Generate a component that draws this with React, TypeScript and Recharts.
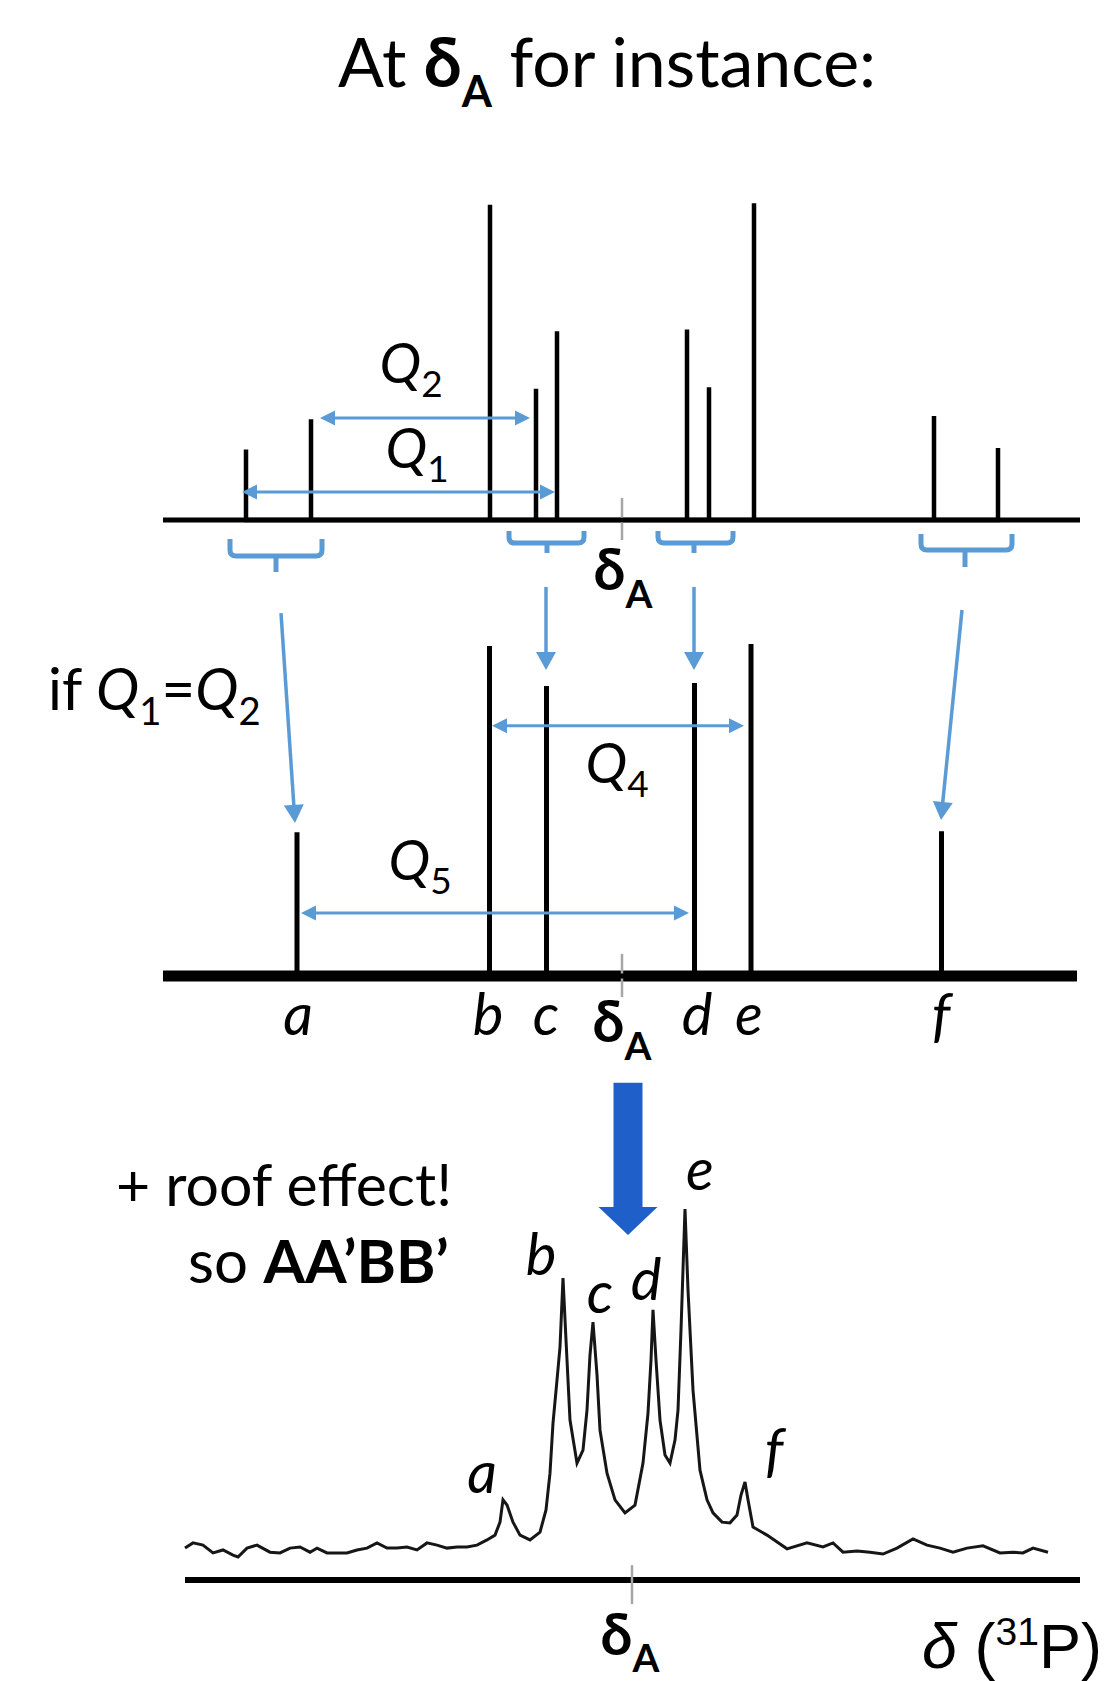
import React from 'react';
import { ComposedChart, Line, XAxis, YAxis, ReferenceLine, ReferenceDot } from 'recharts';

const FONT = 'Lato, "Open Sans", sans-serif';
const ARIAL = '"Liberation Sans", Arial, sans-serif';
const BLUE = '#5B9BD5';
const BIG_BLUE = '#1F5FC9';
const TICK_GRAY = '#A6A6A6';
const W = 1119;

// ---------------- Panel 1: first-order stick spectrum ----------------
// x: shift relative to δA (arbitrary units), y: intensity (arbitrary units)
const p1PeakPos = [-37.6, -31.1, -13.2, -8.6, -6.5, 6.5, 8.7, 13.2, 31.2, 37.6];
const p1PeakInt = [22.0, 31.5, 98.5, 41.0, 59.0, 59.5, 41.5, 99.0, 32.5, 22.5];
const p1Base = [-45.9, 45.8];
const p1BracketL = [-39.2, -11.3, 3.6, 29.9];
const p1BracketC = [-34.6, -7.5, 7.2, 34.3];
const p1BracketR = [-30.0, -3.8, 11.1, 39.0];
const p1BracketTop = [-5.9, -3.4, -3.4, -4.4];
const p1BracketBar = [-11.25, -7.2, -7.2, -9.4];
const p1BracketBot = [-16.25, -10.3, -10.3, -14.7];
const p1QNames = ['2', '1'];
const p1QFrom = [-30.2, -38.0];
const p1QTo = [-9.2, -6.7];
const p1QLevel = [31.9, 8.75];
const p1QLabelX = [-21.1, -20.5];
const p1QLabelY = [42.8, 16.25];

// ---------------- Panel 2: collapsed lines ----------------
const p2Names = ['a', 'b', 'c', 'd', 'e', 'f'];
const p2PeakPos = [-32.5, -13.25, -7.55, 7.25, 12.9, 31.95];
const p2PeakInt = [43.6, 100.0, 87.9, 88.8, 100.6, 43.9];
const p2LabelPos = [-32.4, -13.4, -7.6, 7.5, 12.7, 31.9];
const p2LabelLevel = -17.9;
const p2Base = [-45.9, 45.5];
const p2ArrowFromX = [-34.1, -7.6, 7.2, 34.0];
const p2ArrowFromY = [110.0, 117.9, 117.9, 110.9];
const p2ArrowToX = [-32.7, -7.6, 7.2, 31.9];
const p2ArrowToY = [46.4, 92.7, 92.7, 47.3];
const p2QNames = ['4', '5'];
const p2QFrom = [-13.0, -32.1];
const p2QTo = [12.2, 6.7];
const p2QLevel = [75.8, 19.1];
const p2QLabelX = [-0.5, -20.2];
const p2QLabelY = [58.5, 29.1];

// ---------------- Panel 3: experimental AA'BB' spectrum ----------------
const p3Shift = [
  -44.7, -43.9, -42.9, -41.9, -40.9, -39.9, -39.4, -38.5, -37.5, -36.2, -35.2, -34.2, -33.2, -32.2, -31.5,
  -30.5, -29.5, -28.5, -27.5, -26.5, -25.5, -24.5, -23.5, -22.5, -21.5, -20.5, -19.5, -18.5, -17.5, -16.5,
  -15.5, -14.5, -13.7, -13.2, -12.9, -12.5, -11.9, -11.2, -10.2, -9.2, -8.6, -8.2, -7.9, -7.5, -7.2, -6.9,
  -6.6, -6.2, -5.5, -4.9, -4.5, -4.2, -3.9, -3.5, -3.2, -2.5, -1.7, -0.7, 0.3, 1.1, 1.6, 1.9, 2.1, 2.4, 2.8,
  3.3, 3.8, 4.3, 4.6, 4.9, 5.3, 5.6, 6.1, 6.8, 7.5, 8.1, 9.0, 9.8, 10.5, 10.9, 11.3, 11.6, 12.1, 13.5, 15.5,
  17.5, 19.1, 20.1, 21.1, 22.5, 23.8, 25.1, 26.5, 28.1, 29.5, 30.8, 32.1, 33.5, 35.1, 36.8, 38.1, 39.1, 40.1, 41.6,
];
const p3Int = [
  8.6, 10.0, 9.4, 7.3, 8.1, 6.7, 6.2, 8.6, 9.4, 7.5, 7.3, 8.6, 8.9, 7.5, 8.6,
  7.3, 7.3, 7.3, 8.1, 8.6, 10.0, 8.6, 8.6, 8.9, 8.1, 10.0, 9.4, 8.6, 8.9, 8.9,
  9.4, 10.8, 12.1, 15.6, 21.6, 20.2, 15.6, 12.1, 10.8, 12.9, 18.9, 28.8, 42.3, 53.9, 62.8, 81.4,
  64.7, 43.1, 31.5, 35.0, 45.8, 60.6, 69.5, 55.3, 40.4, 28.8, 21.6, 18.1, 20.2, 31.5, 45.0, 59.3, 72.8, 59.3, 43.1,
  33.7, 31.5, 37.7, 45.8, 67.4, 100.0, 78.2, 51.2, 29.6, 21.6, 18.1, 15.6, 15.4, 17.5, 22.9, 26.4, 21.6, 14.3, 12.1, 8.4,
  10.0, 8.9, 10.0, 7.5, 7.8, 7.5, 7.0, 8.6, 11.1, 9.4, 8.6, 7.5, 8.6, 9.2, 7.3, 7.5, 7.3, 8.6, 7.5,
];
const p3Names = ['a', 'b', 'c', 'd', 'e', 'f'];
const p3LabelPos = [-15.0, -9.1, -3.2, 1.4, 6.8, 14.2];
const p3LabelLevel = [23.5, 82.2, 72.0, 75.5, 105.0, 29.6];
const p3Axis = [-44.7, 44.8];
const p3BigArrowX = -0.4;
const p3BigArrowY = [134.0, 93.0];

// ---------------- helpers ----------------
type Run = { t: string; b?: boolean; i?: boolean; sub?: boolean; sup?: boolean };

function RichText(props: {
  x: number; y: number; runs: Run[]; size: number; anchor?: string; family?: string;
  subScale?: number; subShift?: number; supShift?: number;
}) {
  const { x, y, runs, size, anchor = 'start', family = FONT, subScale = 0.66, subShift = 0.25, supShift = 0.38 } = props;
  let cur = 0;
  return (
    <text x={x} y={y} textAnchor={anchor as any} fontFamily={family} fontSize={size} fill="#000"
      style={{ whiteSpace: 'pre' }}>
      {runs.map((r, k) => {
        const target = r.sub ? size * subShift : r.sup ? -size * supShift : 0;
        const dy = target - cur;
        cur = target;
        return (
          <tspan key={k} dy={dy} fontWeight={r.b ? 700 : 400} fontStyle={r.i ? 'italic' : 'normal'}
            fontSize={r.sub || r.sup ? size * subScale : size}>
            {r.t}
          </tspan>
        );
      })}
    </text>
  );
}

const textShape = (runs: Run[], size: number, extra: any = {}) => (p: any) => (
  <RichText x={p.cx} y={p.cy} runs={runs} size={size} anchor="middle" {...extra} />
);

function makeArrow(both: boolean, color: string, width: number, headLen: number, headHalf: number) {
  return (p: any) => {
    const { x1, y1, x2, y2 } = p;
    const len = Math.hypot(x2 - x1, y2 - y1) || 1;
    const ux = (x2 - x1) / len;
    const uy = (y2 - y1) / len;
    const nx = -uy;
    const ny = ux;
    const head = (tx: number, ty: number, dx: number, dy: number) => {
      const bx = tx - dx * headLen;
      const by = ty - dy * headLen;
      return `M${tx},${ty}L${bx + nx * headHalf},${by + ny * headHalf}L${bx - nx * headHalf},${by - ny * headHalf}Z`;
    };
    const sx = both ? x1 + ux * headLen * 0.9 : x1;
    const sy = both ? y1 + uy * headLen * 0.9 : y1;
    const ex = x2 - ux * headLen * 0.9;
    const ey = y2 - uy * headLen * 0.9;
    return (
      <g>
        <line x1={sx} y1={sy} x2={ex} y2={ey} stroke={color} strokeWidth={width} />
        <path d={head(x2, y2, ux, uy)} fill={color} />
        {both && <path d={head(x1, y1, -ux, -uy)} fill={color} />}
      </g>
    );
  };
}

// bracket drawn from segment (left, top) -> (right, bar)
const bracketShape = (p: any) => {
  const { x1, y1, x2, y2 } = p;
  const r = 6;
  const d = `M${x1},${y1}L${x1},${y2 - r}Q${x1},${y2} ${x1 + r},${y2}L${x2 - r},${y2}Q${x2},${y2} ${x2},${y2 - r}L${x2},${y1}`;
  return <path d={d} fill="none" stroke={BLUE} strokeWidth={5} />;
};

const blockArrow = (p: any) => {
  const { x1, y1, y2 } = p;
  const sh = 14.5;
  const hh = 29.5;
  const hl = 28;
  const d = `M${x1 - sh},${y1}L${x1 + sh},${y1}L${x1 + sh},${y2 - hl}L${x1 + hh},${y2 - hl}L${x1},${y2}L${x1 - hh},${y2 - hl}L${x1 - sh},${y2 - hl}Z`;
  return <path d={d} fill={BIG_BLUE} />;
};

const sticks = (pos: number[], ints: number[]) =>
  pos.flatMap((x, i) => [
    { x, y: 0 },
    { x, y: ints[i] },
    { x, y: 0 },
  ]);

const deltaA = (size: number) =>
  textShape([{ t: 'δ', b: true }, { t: 'A', b: true, sub: true }], size, { subScale: 0.68, subShift: 0.31 });

const qLabel = (n: string) => textShape([{ t: 'Q', i: true }, { t: n, sub: true }], 56, { subScale: 0.66, subShift: 0.25 });

const letter = (s: string) => textShape([{ t: s, i: true }], 58);

// ---------------- panels ----------------
function Panel1() {
  const data = sticks(p1PeakPos, p1PeakInt);
  return (
    <div style={{ position: 'absolute', left: 0, top: 150, width: W, height: 480 }}>
      <ComposedChart width={W} height={480} data={data} margin={{ top: 0, right: 37, bottom: 0, left: 162 }}>
        <XAxis dataKey="x" type="number" domain={[-46, 46]} allowDataOverflow hide />
        <YAxis type="number" domain={[-34.375, 115.625]} allowDataOverflow hide />
        <ReferenceLine segment={[{ x: p1Base[0], y: 0 }, { x: p1Base[1], y: 0 }]} stroke="#000" strokeWidth={5} />
        <ReferenceLine segment={[{ x: 0, y: -6.25 }, { x: 0, y: 6.9 }]} stroke={TICK_GRAY} strokeWidth={2.5} />
        <Line type="linear" dataKey="y" stroke="#000" strokeWidth={4.5} dot={false} activeDot={false}
          isAnimationActive={false} />
        {p1BracketL.map((xl, i) => (
          <React.Fragment key={'b' + i}>
            <ReferenceLine segment={[{ x: xl, y: p1BracketTop[i] }, { x: p1BracketR[i], y: p1BracketBar[i] }]}
              shape={bracketShape} />
            <ReferenceLine segment={[{ x: p1BracketC[i], y: p1BracketBar[i] }, { x: p1BracketC[i], y: p1BracketBot[i] }]}
              stroke={BLUE} strokeWidth={5} />
          </React.Fragment>
        ))}
        {p1QFrom.map((x0, i) => (
          <ReferenceLine key={'q' + i} segment={[{ x: x0, y: p1QLevel[i] }, { x: p1QTo[i], y: p1QLevel[i] }]}
            shape={makeArrow(true, BLUE, 3, 15, 7.5)} />
        ))}
        {p1QNames.map((n, i) => (
          <ReferenceDot key={'ql' + i} x={p1QLabelX[i]} y={p1QLabelY[i]} r={1} shape={qLabel(n)} />
        ))}
        <ReferenceDot x={0.1} y={-21.9} r={1} shape={deltaA(57)} />
      </ComposedChart>
    </div>
  );
}

function Panel2() {
  const data = sticks(p2PeakPos, p2PeakInt);
  return (
    <div style={{ position: 'absolute', left: 0, top: 575, width: W, height: 500 }}>
      <ComposedChart width={W} height={500} data={data} margin={{ top: 0, right: 37, bottom: 0, left: 162 }}>
        <XAxis dataKey="x" type="number" domain={[-46, 46]} allowDataOverflow hide />
        <YAxis type="number" domain={[-30, 121.52]} allowDataOverflow hide />
        <ReferenceLine segment={[{ x: p2Base[0], y: 0 }, { x: p2Base[1], y: 0 }]} stroke="#000" strokeWidth={11} />
        <ReferenceLine segment={[{ x: 0, y: -6.4 }, { x: 0, y: 6.7 }]} stroke={TICK_GRAY} strokeWidth={2.5} />
        <Line type="linear" dataKey="y" stroke="#000" strokeWidth={5} dot={false} activeDot={false}
          isAnimationActive={false} />
        {p2ArrowFromX.map((x0, i) => (
          <ReferenceLine key={'d' + i}
            segment={[{ x: x0, y: p2ArrowFromY[i] }, { x: p2ArrowToX[i], y: p2ArrowToY[i] }]}
            shape={makeArrow(false, BLUE, 3.5, 18, 10)} />
        ))}
        {p2QFrom.map((x0, i) => (
          <ReferenceLine key={'q' + i} segment={[{ x: x0, y: p2QLevel[i] }, { x: p2QTo[i], y: p2QLevel[i] }]}
            shape={makeArrow(true, BLUE, 3, 15, 7.5)} />
        ))}
        {p2QNames.map((n, i) => (
          <ReferenceDot key={'ql' + i} x={p2QLabelX[i]} y={p2QLabelY[i]} r={1} shape={qLabel(n)} />
        ))}
        {p2Names.map((n, i) => (
          <ReferenceDot key={'l' + i} x={p2LabelPos[i]} y={p2LabelLevel} r={1} shape={letter(n)} />
        ))}
        <ReferenceDot x={0} y={-20} r={1} shape={deltaA(57)} />
      </ComposedChart>
    </div>
  );
}

function Panel3() {
  const data = p3Shift.map((x, i) => ({ x, y: p3Int[i] }));
  return (
    <div style={{ position: 'absolute', left: 0, top: 1040, width: W, height: 641 }}>
      <ComposedChart width={W} height={641} data={data} margin={{ top: 0, right: 37, bottom: 0, left: 182 }}>
        <XAxis dataKey="x" type="number" domain={[-45, 45]} allowDataOverflow hide />
        <YAxis type="number" domain={[-27.22, 145.55]} allowDataOverflow hide />
        <ReferenceLine segment={[{ x: p3Axis[0], y: 0 }, { x: p3Axis[1], y: 0 }]} stroke="#000" strokeWidth={6} />
        <ReferenceLine segment={[{ x: 0, y: -6.5 }, { x: 0, y: 4.0 }]} stroke={TICK_GRAY} strokeWidth={2.5} />
        <Line type="linear" dataKey="y" stroke="#161616" strokeWidth={3} dot={false} activeDot={false}
          isAnimationActive={false} />
        <ReferenceLine segment={[{ x: p3BigArrowX, y: p3BigArrowY[0] }, { x: p3BigArrowX, y: p3BigArrowY[1] }]}
          shape={blockArrow} />
        {p3Names.map((n, i) => (
          <ReferenceDot key={'l' + i} x={p3LabelPos[i]} y={p3LabelLevel[i]} r={1} shape={letter(n)} />
        ))}
        <ReferenceDot x={-0.2} y={-20.1} r={1} shape={deltaA(57)} />
        <ReferenceDot x={29} y={-23.7} r={1}
          shape={(p: any) => (
            <RichText x={p.cx} y={p.cy} size={63} family={ARIAL} anchor="start" subScale={0.62} supShift={0.36}
              runs={[{ t: 'δ', i: true }, { t: ' (' }, { t: '31', sup: true }, { t: 'P)' }]} />
          )} />
      </ComposedChart>
    </div>
  );
}

function Overlay() {
  return (
    <svg width={W} height={1681} style={{ position: 'absolute', left: 0, top: 0, pointerEvents: 'none' }}>
      <RichText x={338} y={87} size={68}
        runs={[{ t: 'At ' }, { t: 'δ', b: true }, { t: 'A', b: true, sub: true }, { t: ' for instance:' }]}
        subScale={0.64} subShift={0.29} />
      <RichText x={48} y={710} size={58}
        runs={[{ t: 'if ' }, { t: 'Q', i: true }, { t: '1', sub: true }, { t: '=' }, { t: 'Q', i: true }, { t: '2', sub: true }]} />
      <RichText x={116} y={1206} size={59} runs={[{ t: '+ roof effect!' }]} />
      <RichText x={188} y={1283} size={60} runs={[{ t: 'so ' }, { t: 'AA’BB’', b: true }]} />
    </svg>
  );
}

export default function App() {
  return (
    <div style={{ position: 'absolute', left: 0, top: 0, width: W, height: 1681, background: '#fff', overflow: 'hidden' }}>
      <Panel1 />
      <Panel2 />
      <Panel3 />
      <Overlay />
    </div>
  );
}
